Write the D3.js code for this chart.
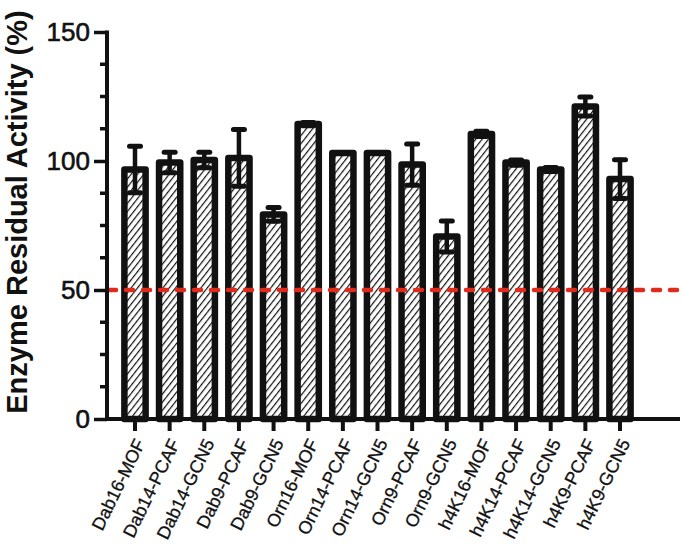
<!DOCTYPE html>
<html>
<head>
<meta charset="utf-8">
<script src="https://cdn.jsdelivr.net/npm/d3@7"></script>
<style>
  html, body { margin: 0; padding: 0; background: #fff; }
  svg { display: block; font-family: 'Liberation Sans', Arial, sans-serif; }
</style>
</head>
<body>
<svg id="chart" width="685" height="547"></svg>
<script>
// ── Data ─────────────────────────────────────────────
const labels = ['Dab16-MOF', 'Dab14-PCAF', 'Dab14-GCN5', 'Dab9-PCAF', 'Dab9-GCN5',
  'Orn16-MOF', 'Orn14-PCAF', 'Orn14-GCN5', 'Orn9-PCAF', 'Orn9-GCN5',
  'h4K16-MOF', 'h4K14-PCAF', 'h4K14-GCN5', 'h4K9-PCAF', 'h4K9-GCN5'];
const values = [96.7, 99.4, 100.4, 101.2, 79.3, 114.3, 103.1, 103.1, 98.6, 70.7, 110.5, 99.4, 96.7, 121.1, 93.0];
const errors = [9.0, 4.0, 3.0, 11.0, 2.7, 0.6, 0, 0, 8.0, 6.0, 1.0, 1.0, 0.8, 3.7, 7.5];
const yMajorTicks = [0, 50, 100, 150];
const yMinorTicks = [12.5, 25, 37.5, 62.5, 75, 87.5, 112.5, 125, 137.5];
const threshold = 50;

// ── Layout ───────────────────────────────────────────
const svg = d3.select('#chart');
const X0 = 107, XEND = 680;
const y = d3.scaleLinear().domain([0, 150]).range([419, 32]);
const x = d3.scaleBand().domain(labels).range([110.75, 644.25]).paddingInner(0.2).paddingOuter(0.3);
const SW = 6.5;
const FONT = "'Liberation Sans', Arial, sans-serif";

// hatch pattern
const defs = svg.append('defs');
defs.append('pattern')
  .attr('id', 'hatch').attr('patternUnits', 'userSpaceOnUse')
  .attr('width', 5).attr('height', 5)
  .attr('patternTransform', 'rotate(38)')
  .append('line')
  .attr('x1', 0).attr('y1', -1).attr('x2', 0).attr('y2', 6)
  .attr('stroke', '#111').attr('stroke-width', 2.4);

// ── Bars ─────────────────────────────────────────────
const gBars = svg.append('g');
gBars.selectAll('rect').data(labels).join('rect')
  .attr('x', d => x(d) + SW / 2)
  .attr('width', x.bandwidth() - SW)
  .attr('y', (d, i) => y(values[i]))
  .attr('height', (d, i) => y(0) - y(values[i]))
  .attr('fill', 'url(#hatch)')
  .attr('stroke', '#111').attr('stroke-width', SW)
  .attr('stroke-linejoin', 'round');

// ── Error bars ───────────────────────────────────────
const gErr = svg.append('g').attr('stroke', '#111').attr('stroke-linecap', 'round');
labels.forEach((lab, i) => {
  if (!errors[i]) return;
  const cx = x(lab) + x.bandwidth() / 2;
  const hi = y(values[i] + errors[i]), lo = y(values[i] - errors[i]);
  gErr.append('line').attr('x1', cx).attr('x2', cx).attr('y1', hi).attr('y2', lo).attr('stroke-width', 4.5);
  [hi, lo].forEach(yy => {
    gErr.append('line').attr('x1', cx - 5.5).attr('x2', cx + 5.5).attr('y1', yy).attr('y2', yy).attr('stroke-width', 5);
  });
});

// ── Threshold line ───────────────────────────────────
svg.append('line')
  .attr('x1', X0 + 2).attr('x2', 685).attr('y1', y(threshold)).attr('y2', y(threshold))
  .attr('stroke', '#e02a1c').attr('stroke-width', 4.5)
  .attr('stroke-dasharray', '7,10').attr('stroke-linecap', 'round');

// ── Y axis ───────────────────────────────────────────
const yAxis = svg.append('g').attr('transform', `translate(${X0},0)`)
  .call(d3.axisLeft(y).tickValues(yMajorTicks).tickSize(13).tickPadding(4).tickFormat(d3.format('d')));
yAxis.select('.domain').remove();
yAxis.selectAll('.tick line').attr('stroke', '#111').attr('stroke-width', 3.5);
yAxis.selectAll('.tick text')
  .attr('font-size', 26).attr('fill', '#111').attr('font-family', FONT)
  .attr('stroke', '#111').attr('stroke-width', 0.6);
yAxis.selectAll('.minor').data(yMinorTicks).join('line').attr('class', 'minor')
  .attr('x1', -7).attr('x2', 0).attr('y1', d => y(d)).attr('y2', d => y(d))
  .attr('stroke', '#111').attr('stroke-width', 3.5);
yAxis.append('line').attr('x1', 0).attr('x2', 0).attr('y1', y(150) - 1.5).attr('y2', y(0) + 2)
  .attr('stroke', '#111').attr('stroke-width', 4);

// ── X axis ───────────────────────────────────────────
const xAxis = svg.append('g').attr('transform', `translate(0,${y(0)})`)
  .call(d3.axisBottom(x).tickSize(12).tickSizeOuter(0));
xAxis.select('.domain').remove();
xAxis.selectAll('.tick line').attr('stroke', '#111').attr('stroke-width', 4);
xAxis.selectAll('.tick text')
  .attr('font-size', 18).attr('fill', '#111').attr('font-family', FONT)
  .attr('stroke', '#111').attr('stroke-width', 0.3)
  .attr('text-anchor', 'end').attr('dy', '0.35em')
  .attr('transform', 'translate(5,21) rotate(-64)')
  .attr('y', 0).attr('x', 0);
svg.append('line').attr('x1', X0 - 2).attr('x2', XEND).attr('y1', y(0)).attr('y2', y(0))
  .attr('stroke', '#111').attr('stroke-width', 4);

// ── Title ────────────────────────────────────────────
svg.append('text')
  .attr('transform', 'translate(27,212) rotate(-90)')
  .attr('text-anchor', 'middle')
  .attr('font-size', 29).attr('font-weight', 'bold').attr('fill', '#111').attr('font-family', FONT)
  .text('Enzyme Residual Activity (%)');
</script>
</body>
</html>
